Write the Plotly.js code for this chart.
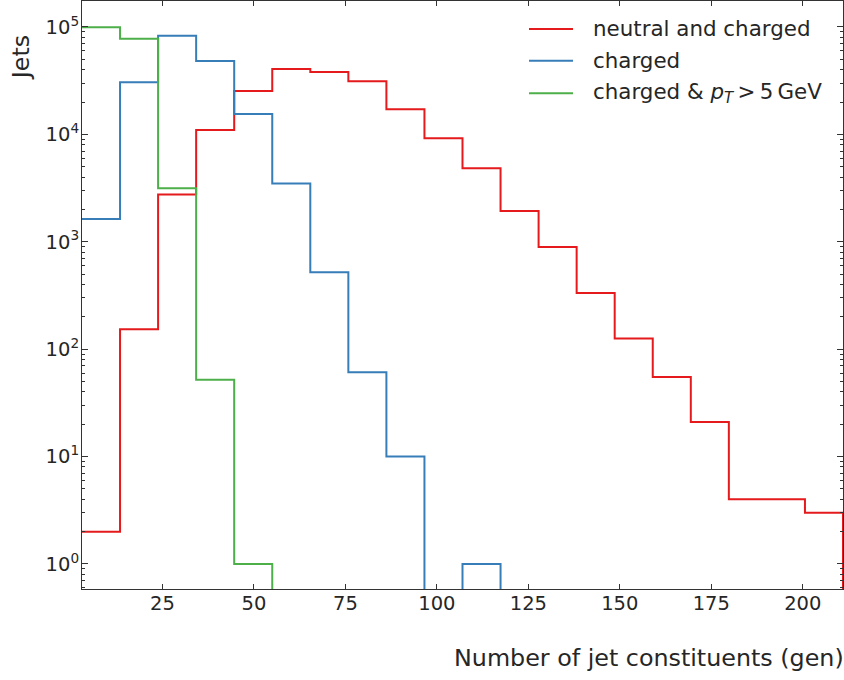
<!DOCTYPE html>
<html>
<head>
<meta charset="utf-8">
<script src="https://cdn.plot.ly/plotly-3.0.1.min.js"></script>
<style>
  html, body { margin: 0; padding: 0; background: #ffffff; }
  #chart { width: 844px; height: 680px; }
</style>
</head>
<body>
<div id="chart"></div>
<script>
// Histogram bin edges (20 equal-width bins from 3 to 211 constituents)
const binEdges = [3, 13.4, 23.8, 34.2, 44.6, 55, 65.4, 75.8, 86.2, 96.6, 107,
                  117.4, 127.8, 138.2, 148.6, 159, 169.4, 179.8, 190.2, 200.6, 211];

// Jet counts per bin
const neutralAndCharged = [2, 153, 2750, 11000, 25400, 40600, 38100, 31200, 17100, 9200,
                           4830, 1940, 895, 334, 126, 55, 21, 4, 4, 3];
const chargedOnly = [1630, 30500, 83000, 48200, 15500, 3480, 520, 61, 10, 0,
                     1, 0, 0, 0, 0, 0, 0, 0, 0, 0];
const chargedHighPt = [99300, 77800, 3150, 52, 1, 0, 0, 0, 0, 0,
                       0, 0, 0, 0, 0, 0, 0, 0, 0, 0];

const seriesNames = ['neutral and charged', 'charged',
                     'charged &amp; <i>p<sub>T</sub></i>\u2009&gt;\u20095\u2009GeV'];
const seriesColors = ['#e41a1c', '#377eb8', '#4daf4a'];

const xTickVals = [25, 50, 75, 100, 125, 150, 175, 200];
const yTickVals = [1, 10, 100, 1000, 10000, 100000];
const yTickText = ['10<sup>0</sup>', '10<sup>1</sup>', '10<sup>2</sup>',
                   '10<sup>3</sup>', '10<sup>4</sup>', '10<sup>5</sup>'];

// Empty bins sit far below the visible log range so the outline drops out of view
const EMPTY_LEVEL = 1e-3;

// Build an outline ("step") path from bin edges and counts
function stepOutline(edges, counts) {
  const xs = [];
  const ys = [];
  for (let i = 0; i < counts.length; i++) {
    const c = counts[i] > 0 ? counts[i] : EMPTY_LEVEL;
    xs.push(edges[i], edges[i + 1]);
    ys.push(c, c);
  }
  xs.push(edges[edges.length - 1]);
  ys.push(EMPTY_LEVEL);
  return { x: xs, y: ys };
}

const allCounts = [neutralAndCharged, chargedOnly, chargedHighPt];
const traces = allCounts.map((counts, k) => {
  const p = stepOutline(binEdges, counts);
  return {
    type: 'scatter',
    mode: 'lines',
    x: p.x,
    y: p.y,
    name: seriesNames[k],
    showlegend: false,
    line: { color: seriesColors[k], width: 2, shape: 'linear' },
    hoverinfo: 'skip'
  };
});

// Minor tick positions on the log axis (2..9 within each decade)
const minorY = [];
for (let d = -1; d <= 5; d++) {
  for (let m = 2; m <= 9; m++) minorY.push(m * Math.pow(10, d));
}

const FONT = 'DejaVu Sans, Liberation Sans, sans-serif';
const INK = '#262626';
const FRAME = '#333333';

// Legend key: a short line sample followed by the series label (paper coordinates)
const KEY_X0 = 0.5874, KEY_X1 = 0.6452, KEY_TEXT_X = 0.6689;
const KEY_ROWS = [0.9524, 0.8985, 0.8430];

const legendShapes = seriesColors.map((col, k) => ({
  type: 'line', xref: 'paper', yref: 'paper',
  x0: KEY_X0, x1: KEY_X1, y0: KEY_ROWS[k], y1: KEY_ROWS[k],
  line: { color: col, width: 2 }
}));
const legendLabels = seriesNames.map((name, k) => ({
  text: name, xref: 'paper', yref: 'paper',
  x: KEY_TEXT_X, xanchor: 'left',
  y: KEY_ROWS[k], yanchor: 'middle',
  showarrow: false,
  font: { family: FONT, size: 21.4, color: INK }
}));

const layout = {
  width: 844,
  height: 680,
  margin: { l: 82, r: 1, t: 1, b: 91, pad: 0 },
  paper_bgcolor: '#ffffff',
  plot_bgcolor: '#ffffff',
  font: { family: FONT, color: INK, size: 19.5 },
  showlegend: false,
  xaxis: {
    range: [3, 211],
    showgrid: false,
    zeroline: false,
    showline: true,
    linecolor: FRAME,
    linewidth: 1,
    mirror: 'allticks',
    ticks: 'inside',
    ticklen: 5,
    tickwidth: 1,
    tickcolor: FRAME,
    tickmode: 'array',
    tickvals: xTickVals,
    ticktext: xTickVals.map(String),
    ticklabelstandoff: -3,
    tickfont: { family: FONT, size: 19.5, color: INK }
  },
  yaxis: {
    type: 'log',
    range: [-0.233, 5.242],
    showgrid: false,
    zeroline: false,
    showline: true,
    linecolor: FRAME,
    linewidth: 1,
    mirror: 'allticks',
    ticks: 'inside',
    ticklen: 6,
    tickwidth: 1,
    tickcolor: FRAME,
    tickmode: 'array',
    tickvals: yTickVals,
    ticktext: yTickText,
    ticklabelstandoff: -2,
    tickfont: { family: FONT, size: 19.5, color: INK },
    minor: {
      tickmode: 'array',
      tickvals: minorY,
      ticks: 'inside',
      ticklen: 3,
      tickwidth: 1,
      tickcolor: FRAME,
      showgrid: false
    }
  },
  shapes: legendShapes,
  annotations: legendLabels.concat([
    {
      text: 'Number of jet constituents (gen)',
      xref: 'paper', yref: 'paper',
      x: 1.0, xanchor: 'right', xshift: 3,
      y: -0.118, yanchor: 'middle',
      showarrow: false,
      font: { family: FONT, size: 23.8, color: INK }
    },
    {
      text: 'Jets',
      xref: 'paper', yref: 'paper',
      x: -0.08, xanchor: 'center',
      y: 0.903, yanchor: 'middle',
      textangle: -90,
      showarrow: false,
      font: { family: FONT, size: 23.8, color: INK }
    }
  ])
};

Plotly.newPlot('chart', traces, layout, { displayModeBar: false, staticPlot: true });
</script>
</body>
</html>
